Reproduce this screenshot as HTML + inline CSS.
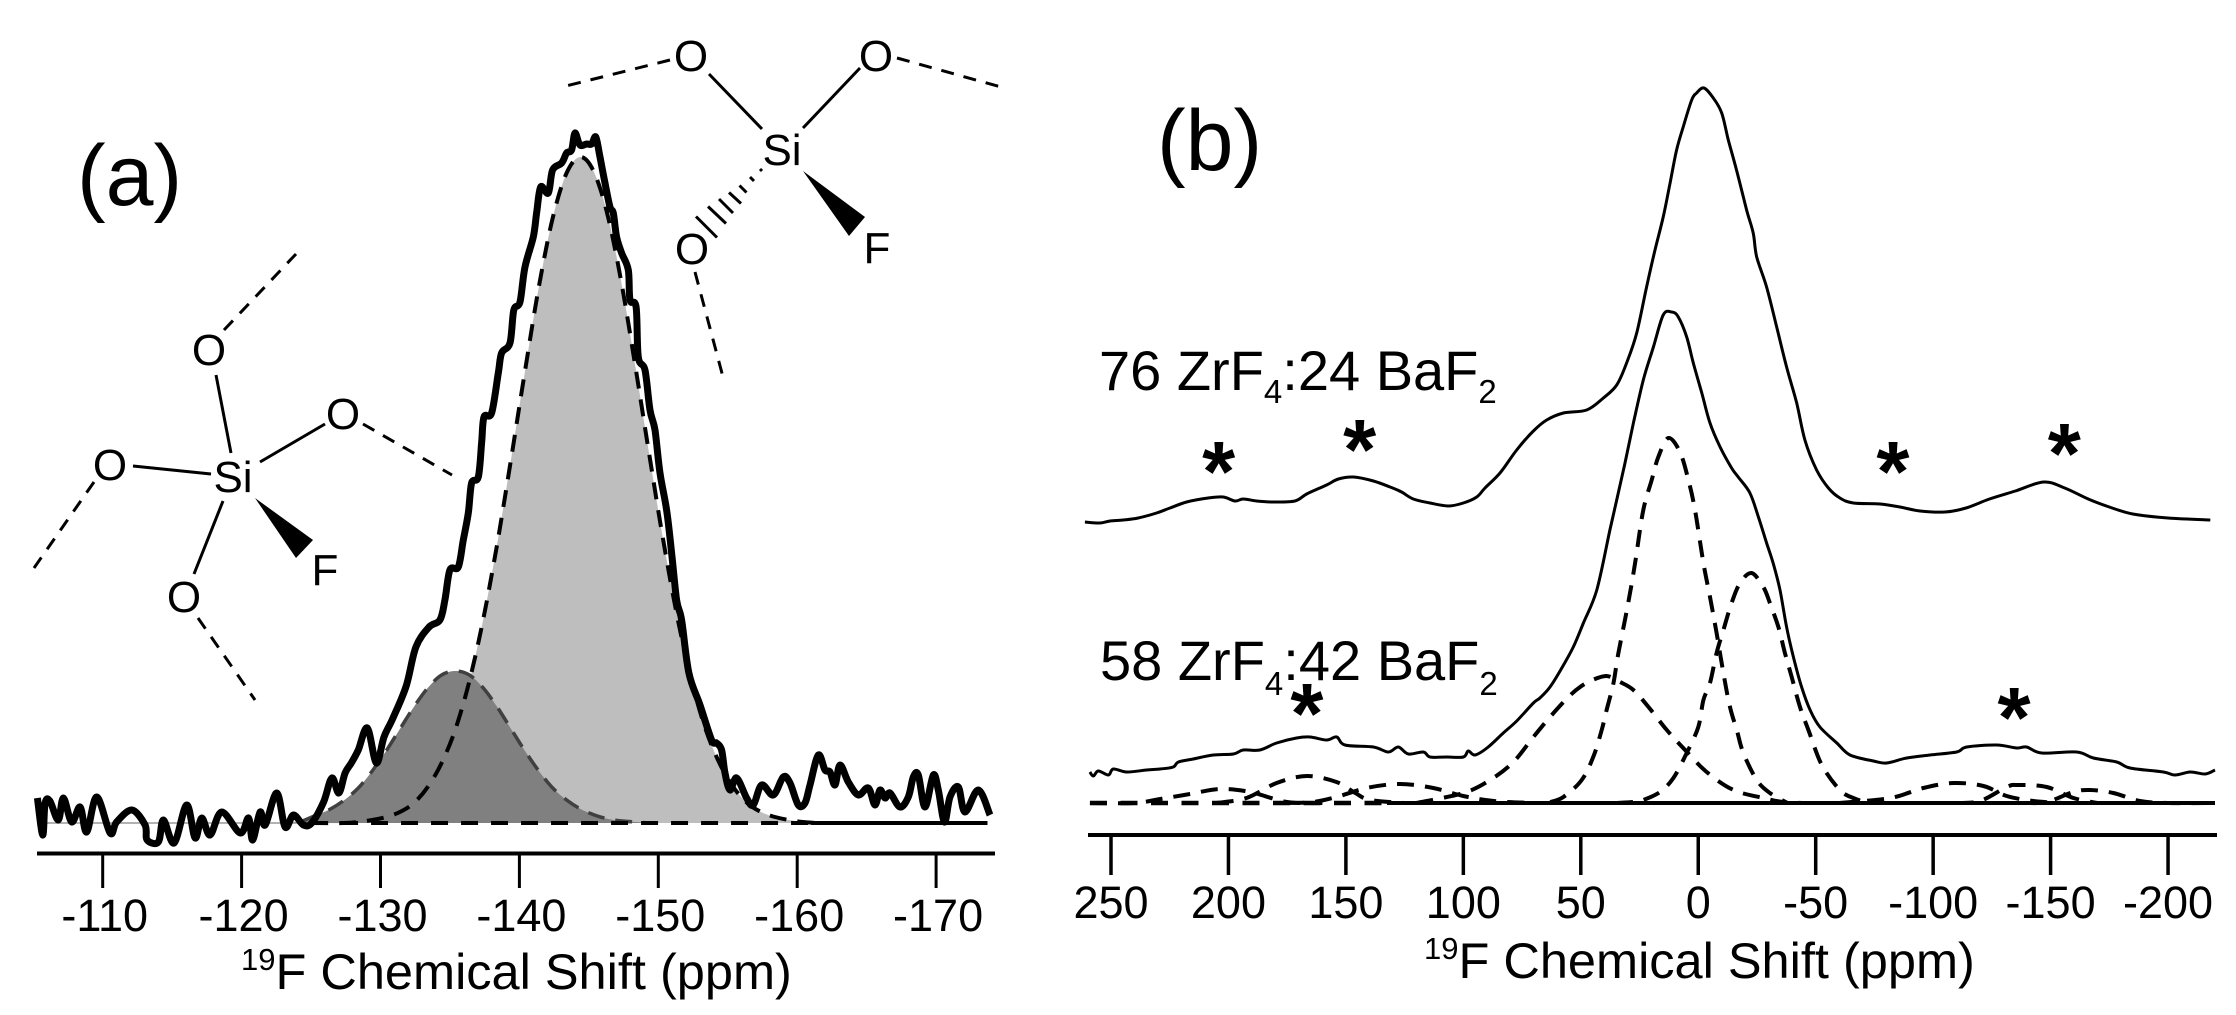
<!DOCTYPE html>
<html lang="en">
<head>
<meta charset="utf-8">
<title>19F NMR spectra</title>
<style>
html,body{margin:0;padding:0;background:#fff;}
svg{display:block;}
text{font-family:"Liberation Sans",Arial,sans-serif;fill:#000;}
.thin{stroke:#000;stroke-width:3;fill:none;}
.dash{stroke:#000;stroke-width:3;fill:none;stroke-dasharray:13 10;}
.atom{font-size:44px;text-anchor:middle;}
.lab{font-size:56px;}
.sub{font-size:33px;}
.title{font-size:50.5px;}
.sup{font-size:31px;}
.panel{font-size:86px;}
</style>
</head>
<body>
<svg id="chart" xmlns="http://www.w3.org/2000/svg" width="2236" height="1015" viewBox="0 0 2236 1015">
  <rect x="0" y="0" width="2236" height="1015" fill="#fff"/>
  <g id="panelA"></g>
  <g id="panelB"></g>

  <text class="panel" x="77" y="205">(a)</text>
  <text class="panel" x="1157" y="170">(b)</text>

  <g>
    <text class="atom" x="233" y="492">Si</text>
    <text class="atom" x="209" y="365">O</text>
    <text class="atom" x="343" y="429">O</text>
    <text class="atom" x="110" y="480">O</text>
    <text class="atom" x="184" y="612">O</text>
    <text class="atom" x="325" y="585">F</text>
    <line class="thin" x1="216" y1="375" x2="231" y2="453"/>
    <line class="thin" x1="260" y1="462" x2="325" y2="424"/>
    <line class="thin" x1="133" y1="466" x2="211" y2="474"/>
    <line class="thin" x1="223" y1="501" x2="194" y2="574"/>
    <polygon points="255,498 313,540 296,558" fill="#000"/>
    <line class="dash" x1="224" y1="330" x2="296" y2="254"/>
    <line class="dash" x1="363" y1="424" x2="452" y2="475"/>
    <line class="dash" x1="94" y1="482" x2="34" y2="568"/>
    <line class="dash" x1="198" y1="618" x2="255" y2="700"/>
  </g>

  <g>
    <text class="atom" x="782" y="165">Si</text>
    <text class="atom" x="691" y="71">O</text>
    <text class="atom" x="876" y="71">O</text>
    <text class="atom" x="692" y="264">O</text>
    <text class="atom" x="877" y="263">F</text>
    <line class="thin" x1="709" y1="74" x2="762" y2="129"/>
    <line class="thin" x1="860" y1="68" x2="803" y2="128"/>
    <polygon points="803,171 865,217 849,236" fill="#000"/>
    <g stroke="#000" stroke-width="3">
      <line x1="760" y1="169" x2="762" y2="171"/>
      <line x1="750" y1="177" x2="754" y2="181"/>
      <line x1="739.5" y1="185.5" x2="746.5" y2="192.5"/>
      <line x1="729" y1="192.5" x2="741" y2="203.5"/>
      <line x1="719" y1="199" x2="733" y2="213"/>
      <line x1="708" y1="206.5" x2="726" y2="223.5"/>
      <line x1="696" y1="216.5" x2="717" y2="237.5"/>
    </g>
    <line class="dash" x1="670" y1="60" x2="562" y2="87"/>
    <line class="dash" x1="897" y1="58" x2="1001" y2="87"/>
    <line class="dash" x1="695" y1="272" x2="723" y2="377"/>
  </g>

  <text class="title" x="241" y="989"><tspan class="sup" dy="-19">19</tspan><tspan dy="19">F Chemical Shift (ppm)</tspan></text>
  <text class="title" x="1424" y="978"><tspan class="sup" dy="-19">19</tspan><tspan dy="19">F Chemical Shift (ppm)</tspan></text>

  <text class="lab" x="1099" y="390">76 ZrF<tspan class="sub" dy="13">4</tspan><tspan dy="-13">:24 BaF</tspan><tspan class="sub" dy="13">2</tspan></text>
  <text class="lab" x="1100" y="680">58 ZrF<tspan class="sub" dy="15">4</tspan><tspan dy="-15">:42 BaF</tspan><tspan class="sub" dy="15">2</tspan></text>
</svg>
<script>
// ---------- Panel (a) data: ppm and intensity (a.u.) ----------
const ticksA = [-110,-120,-130,-140,-150,-160,-170];
const spectrumAPpm = [-105.30,-105.68,-105.85,-106.2,-106.8,-107.17,-107.77,-108.37,-108.85,-109.57,-110.53,-111.0,-112.1,-113.05,-113.2,-114.0,-114.37,-115.14,-116.05,-116.65,-117.13,-117.73,-118.57,-119.9,-120.5,-120.8,-121.33,-121.7,-122.53,-123.13,-123.73,-124.45,-125.05,-125.9,-126.5,-127.0,-127.45,-127.9,-128.4,-129.05,-129.7,-130.25,-130.9,-131.85,-132.55,-133.5,-134.28,-134.64,-135.0,-135.6,-135.96,-136.32,-136.56,-137.04,-137.28,-137.45,-138.0,-138.48,-138.72,-139.32,-139.6,-140.04,-140.4,-141.0,-141.24,-141.53,-142.08,-142.39,-143.04,-143.4,-143.76,-144.0,-144.36,-144.84,-145.2,-145.5,-145.8,-146.16,-146.52,-146.76,-147.0,-147.36,-147.84,-147.96,-148.4,-148.56,-149.04,-149.4,-149.76,-150.12,-150.6,-150.96,-151.32,-151.68,-152.2,-153.0,-153.84,-154.2,-154.56,-154.8,-155.16,-155.64,-156.36,-156.84,-157.44,-158.28,-159.0,-159.48,-160.08,-160.56,-160.92,-161.52,-162.0,-162.36,-162.72,-163.08,-163.68,-164.4,-165.12,-165.6,-165.96,-166.32,-166.68,-167.4,-168.0,-168.36,-168.72,-169.2,-169.8,-170.16,-170.6,-171.0,-171.6,-172.08,-173.04,-173.88];
const spectrumAValues = [2.5,-1.2,2.0,2.2,0.3,2.5,0.1,1.6,-0.9,2.6,-1.0,0.1,1.3,-0.2,-1.7,-1.9,0.3,-2.0,1.8,-1.5,0.5,-1.2,1.1,-1.0,0.5,-1.7,1.1,-0.2,3.0,-0.4,0.8,-0.2,0.0,2.1,4.5,3.0,5.0,6.0,7.3,9.5,6.0,8.6,10.5,13.7,17.6,19.6,20.3,22.3,25.3,25.6,28.3,31.0,34.0,34.6,38.0,40.6,41.0,45.0,47.0,48.0,51.3,52.1,55.6,58.6,61.0,63.6,63.0,65.3,66.0,67.0,67.3,69.0,67.8,67.9,67.9,68.6,66.6,64.0,61.6,61.0,58.6,57.0,55.3,52.3,51.6,46.6,45.3,41.3,39.3,35.0,31.3,27.0,22.3,20.3,15.0,11.8,8.3,8.0,7.3,5.0,3.3,4.5,2.5,1.8,3.8,2.8,4.6,4.0,1.8,2.0,3.8,6.8,5.3,5.1,3.8,5.8,4.1,2.8,3.5,1.8,3.3,2.5,3.0,1.6,2.6,4.6,4.8,1.6,4.8,3.3,0.1,2.6,3.6,1.1,3.3,0.8];
const lightPeakPpm = [-125,-127.4,-128.4,-129.4,-130.4,-131.4,-132.4,-133.4,-134.4,-135.4,-136.4,-137.4,-138.4,-139.4,-140.4,-141.4,-142.4,-143.4,-144.4,-145.4,-146.4,-147.4,-148.4,-149.4,-150.4,-151.4,-152.4,-153.4,-154.4,-155.4,-156.4,-157.4,-158.4,-159.4,-160.4,-161.4];
const lightPeakValues = [0,0,0.1,0.3,0.6,1.1,2.0,3.6,6.0,9.4,14.2,20.4,27.9,36.4,45.2,53.6,60.5,65.0,66.6,65.0,60.5,53.6,45.2,36.4,27.9,20.4,14.2,9.4,6.0,3.6,2.0,1.1,0.6,0.3,0.1,0];
const darkPeakPpm = [-121.4,-122.4,-123.4,-124.4,-125.4,-126.4,-127.4,-128.4,-129.4,-130.4,-131.4,-132.4,-133.4,-134.4,-135.4,-136.4,-137.4,-138.4,-139.4,-140.4,-141.4,-142.4,-143.4,-144.4,-145.4,-146.4,-147.4,-148.4,-149.4];
const darkPeakValues = [0,0,0.1,0.2,0.8,1.4,2.3,3.5,5.2,7.2,9.4,11.6,13.5,14.8,15.2,14.8,13.5,11.6,9.4,7.2,5.2,3.5,2.3,1.4,0.8,0.4,0.2,0.1,0];

// ---------- Panel (b) data: ppm and intensity (a.u.) ----------
const ticksB = [250,200,150,100,50,0,-50,-100,-150,-200];
const upperPpm = [261.1,254.7,250.4,244.8,238.4,230.6,224.9,217.8,208.6,202.2,197.2,193.7,188,180.9,171.7,166.7,158.2,153.2,146.8,138.3,131.2,126.3,121.3,114.2,106.4,100,94.3,90.8,84.4,77.3,70.2,64.5,57.4,47.5,40.4,34.7,30.5,26.2,22,18.4,14.9,12,9.2,6.4,2.8,0.7,-2.4,-6.4,-10,-12.8,-16.3,-20.6,-23.4,-24.9,-29.1,-33.4,-37.6,-41.9,-45.4,-50.4,-55.4,-60.3,-66,-77.4,-85.9,-94.4,-105,-114,-124,-135,-147,-156,-166,-175,-185,-200,-218];
const upperValues = [0.8,0.7,0.9,1.0,1.2,1.7,2.2,2.8,3.2,3.3,2.9,3.1,2.9,2.8,2.9,3.6,4.5,5.1,5.3,4.9,4.3,3.8,3.1,2.7,2.4,2.7,3.3,4.2,5.7,8.0,9.9,11.0,11.7,12.0,13.2,14.5,16.7,19.7,24.3,28.0,31.3,34.7,38.0,40.3,43.0,43.7,44.2,43.2,41.7,39.0,36.0,32.0,29.7,27.3,24.3,20.3,16.3,12.7,9.0,6.0,4.2,3.2,2.7,2.6,2.3,1.9,1.8,2.2,3.1,3.9,4.8,4.2,3.1,2.3,1.6,1.2,1.0];
const lowerPpm = [259,257.5,255.4,251.1,249,243.3,234.8,229.1,223.5,221.3,215,206.4,197.9,193.7,186.6,179.5,171,165.3,158.2,153.9,150.4,138.3,131.9,127.7,123.4,117,114.2,107.1,100,97.9,95,89.4,83,77.3,70.2,67.4,63.1,58.1,53.2,48.9,43.2,37.6,34.7,31.2,27.6,23.4,19.1,14.9,11.3,8.5,4.9,2.1,-1.5,-5,-9.3,-14.2,-17,-22,-25.6,-29.1,-32,-34.8,-37.6,-40.5,-44,-47.6,-51.8,-59,-64.6,-74.6,-80.2,-88.8,-98.7,-110,-114.3,-127,-135.6,-139.8,-146.2,-161.1,-168.2,-178.2,-183.8,-198,-203,-209.4,-215.8,-220];
const lowerValues = [3.1,2.7,3.2,2.8,3.4,3.1,3.3,3.4,3.6,4.1,4.4,4.8,4.9,5.3,5.3,6.0,6.5,6.6,6.3,6.6,5.8,5.6,5.1,5.6,4.9,5.1,4.6,4.6,4.6,5.2,4.8,5.6,7.0,8.2,10.0,10.5,11.6,13.5,15.6,18.0,21.3,27.3,30.3,34.0,38.0,42.3,45.6,48.8,49.1,48.6,46.6,44.0,41.0,38.0,35.6,33.5,32.6,31.0,28.6,26.0,23.9,21.3,17.6,14.6,11.6,9.3,7.6,6.0,4.8,4.2,4.0,4.5,4.8,5.1,5.6,5.8,5.5,5.6,5.0,5.1,4.5,4.1,3.5,3.1,2.8,3.1,2.9,3.3];
const mainPeakPpm = [63,57.4,49.6,44.7,41.1,39,36.1,34,29.8,26.9,23.4,19.8,17,12.7,7.8,4.2,1.4,-2.2,-5,-7.8,-10.7,-13.5,-16.4,-19.2,-24.9,-30.5,-38];
const mainPeakValues = [0.1,0.6,2.3,4.6,7.3,9.3,12.0,15.0,20.0,24.0,29.3,32.3,34.6,36.5,35.1,32.3,29.3,24.0,20.6,17.0,13.0,9.6,7.3,5.0,2.3,1.0,0];
const broadPeakPpm = [120,100,88.6,78.7,70.2,63.1,55.3,50.3,45,39,33.3,27.6,21.2,13.4,5.6,-3.6,-15,-27.7,-36,-45];
const broadPeakValues = [0,1.0,2.3,4.1,6.6,8.6,10.6,11.6,12.3,12.7,12.1,11.3,9.6,7.3,5.3,3.1,1.3,0.5,0.1,0];
const rightPeakPpm = [35,27.6,23.4,16.3,10.6,4.9,0,-2.2,-5,-7.8,-10.7,-14.2,-17.8,-22.7,-27.7,-30.5,-34.1,-36.9,-39.8,-43.3,-46.9,-52.6,-60.3,-66,-71.7,-78];
const rightPeakValues = [0,0.1,0.3,1.1,2.5,5.0,7.6,10.3,12.0,15.0,17.3,20.0,22.0,23.0,21.6,20.0,17.6,15.0,12.6,9.6,7.3,3.8,1.3,0.5,0.1,0];
const sidebandAPpm = [259,240,229,216.4,203.6,190.8,175,160];
const sidebandAValues = [0,0,0.4,0.9,1.4,1.1,0.1,0];
const sidebandBPpm = [205,192.3,179.5,166.7,154,146,139.7,125];
const sidebandBValues = [0,0.5,2.0,2.7,2.1,1.0,0.3,0];
const sidebandCPpm = [175,163.9,154,141.2,127,112.8,100,87,70];
const sidebandCValues = [0,0.1,0.6,1.5,1.9,1.5,0.7,0.2,0];
const sidebandDPpm = [-60,-81.7,-95.8,-108.6,-121.4,-131.3,-142.7,-155];
const sidebandDValues = [0,0.5,1.5,2.0,1.7,0.7,0.2,0];
const sidebandEPpm = [-110,-120,-131.3,-136.3,-148.4,-159.7,-170];
const sidebandEValues = [0,0.2,1.6,1.8,1.6,0.5,0];
const sidebandFPpm = [-140,-148.4,-159.7,-166.8,-176.7,-188,-200,-220];
const sidebandFValues = [0,0.1,1.1,1.3,1.0,0.2,0,0];

const asteriskPpm = [205,145,-82,-155];
const lowerAsteriskPpm = [167,-134];

// ---------- Axis functions ----------
const xA = p => 102.7 + (-110 - p) * 13.89;
const yA = v => 823 - v * 10;
const xB = p => 1111 + (250 - p) * 2.349;
const yUpper = v => 530 - v * 10;
const yLower = v => 803 - v * 10;

const NS = 'http://www.w3.org/2000/svg';
const panelA = document.getElementById('panelA');
const panelB = document.getElementById('panelB');

function pathD(ppm, vals, fx, fy) {
  const pts = ppm.map((p, i) => [fx(p), fy(vals[i])]);
  let d = 'M' + pts[0][0].toFixed(1) + ' ' + pts[0][1].toFixed(1);
  for (let i = 0; i < pts.length - 1; i++) {
    const p0 = pts[Math.max(i - 1, 0)];
    const p1 = pts[i];
    const p2 = pts[i + 1];
    const p3 = pts[Math.min(i + 2, pts.length - 1)];
    const c1x = p1[0] + (p2[0] - p0[0]) / 6;
    const c1y = p1[1] + (p2[1] - p0[1]) / 6;
    const c2x = p2[0] - (p3[0] - p1[0]) / 6;
    const c2y = p2[1] - (p3[1] - p1[1]) / 6;
    d += ' C' + c1x.toFixed(1) + ' ' + c1y.toFixed(1) + ' ' + c2x.toFixed(1) + ' ' + c2y.toFixed(1) + ' ' + p2[0].toFixed(1) + ' ' + p2[1].toFixed(1);
  }
  return d;
}
function styled(el, fill, stroke, width, dash) {
  el.setAttribute('fill', fill);
  el.setAttribute('stroke', stroke);
  el.setAttribute('stroke-width', width);
  el.setAttribute('stroke-linejoin', 'round');
  if (dash) el.setAttribute('stroke-dasharray', dash);
  return el;
}

// Panel (a) filled peaks
let el = document.createElementNS(NS, 'path');


el.setAttribute('d', pathD(lightPeakPpm, lightPeakValues, xA, yA) + ' Z');
styled(el, '#bebebe', 'none', 0);
panelA.appendChild(el);

el = document.createElementNS(NS, 'path');


el.setAttribute('d', pathD(darkPeakPpm, darkPeakValues, xA, yA) + ' Z');
styled(el, '#808080', 'none', 0);
panelA.appendChild(el);

el = document.createElementNS(NS, 'line');


el.setAttribute('x1', xA(-105.3));
el.setAttribute('x2', xA(-125));
el.setAttribute('y1', yA(0));
el.setAttribute('y2', yA(0));
styled(el, 'none', '#999', 1.5);
panelA.appendChild(el);

el = document.createElementNS(NS, 'path');


el.setAttribute('d', pathD(darkPeakPpm.slice(3), darkPeakValues.slice(3), xA, yA));
styled(el, 'none', '#404040', 3.5, '17 11');
panelA.appendChild(el);

el = document.createElementNS(NS, 'path');


el.setAttribute('d', pathD(lightPeakPpm, lightPeakValues, xA, yA));
styled(el, 'none', '#000', 4, '17 11');
panelA.appendChild(el);

el = document.createElementNS(NS, 'line');


el.setAttribute('x1', xA(-125));
el.setAttribute('x2', xA(-161));
el.setAttribute('y1', yA(0));
el.setAttribute('y2', yA(0));
styled(el, 'none', '#000', 4, '17 13');
panelA.appendChild(el);

el = document.createElementNS(NS, 'line');


el.setAttribute('x1', xA(-161));
el.setAttribute('x2', xA(-173.7));
el.setAttribute('y1', yA(0));
el.setAttribute('y2', yA(0));
styled(el, 'none', '#000', 4);
panelA.appendChild(el);

el = document.createElementNS(NS, 'path');


el.setAttribute('d', pathD(spectrumAPpm, spectrumAValues, xA, yA));
styled(el, 'none', '#000', 7);
panelA.appendChild(el);

// Panel (a) axis
el = document.createElementNS(NS, 'line');


el.setAttribute('x1', 37);
el.setAttribute('x2', 995);
el.setAttribute('y1', 853.5);
el.setAttribute('y2', 853.5);
styled(el, 'none', '#000', 4);
panelA.appendChild(el);

ticksA.forEach(t => {
  const tick = document.createElementNS(NS, 'line');
  
  
  tick.setAttribute('x1', xA(t));
  tick.setAttribute('x2', xA(t));
  tick.setAttribute('y1', 853);
  tick.setAttribute('y2', 888);
  styled(tick, 'none', '#000', 3);
  panelA.appendChild(tick);
  const label = document.createElementNS(NS, 'text');
  
  
  label.setAttribute('x', xA(t) + 2);
  label.setAttribute('y', 931);
  label.setAttribute('text-anchor', 'middle');
  label.setAttribute('font-size', '45');
  label.textContent = String(t);
  panelA.appendChild(label);
});

// Panel (b) traces
el = document.createElementNS(NS, 'path');


el.setAttribute('d', pathD(upperPpm, upperValues, xB, yUpper));
styled(el, 'none', '#000', 3);
panelB.appendChild(el);

el = document.createElementNS(NS, 'path');


el.setAttribute('d', pathD(lowerPpm, lowerValues, xB, yLower));
styled(el, 'none', '#000', 3);
panelB.appendChild(el);

[[mainPeakPpm, mainPeakValues, 'main-peak-curve'],
 [broadPeakPpm, broadPeakValues, 'broad-peak-curve'],
 [rightPeakPpm, rightPeakValues, 'right-peak-curve'],
 [sidebandAPpm, sidebandAValues, 'sideband-a-curve'],
 [sidebandBPpm, sidebandBValues, 'sideband-b-curve'],
 [sidebandCPpm, sidebandCValues, 'sideband-c-curve'],
 [sidebandDPpm, sidebandDValues, 'sideband-d-curve'],
 [sidebandEPpm, sidebandEValues, 'sideband-e-curve'],
 [sidebandFPpm, sidebandFValues, 'sideband-f-curve']].forEach(s => {
  const c = document.createElementNS(NS, 'path');
  
  
  c.setAttribute('d', pathD(s[0], s[1], xB, yLower));
  styled(c, 'none', '#000', 4, '17 11');
  panelB.appendChild(c);
});

el = document.createElementNS(NS, 'line');


el.setAttribute('x1', 1090);
el.setAttribute('x2', 1387);
el.setAttribute('y1', yLower(0));
el.setAttribute('y2', yLower(0));
styled(el, 'none', '#000', 4.5, '17 13.5');
panelB.appendChild(el);

el = document.createElementNS(NS, 'line');


el.setAttribute('x1', 1387);
el.setAttribute('x2', 2215);
el.setAttribute('y1', yLower(0));
el.setAttribute('y2', yLower(0));
styled(el, 'none', '#000', 4);
panelB.appendChild(el);

// Panel (b) axis
el = document.createElementNS(NS, 'line');


el.setAttribute('x1', 1088);
el.setAttribute('x2', 2217);
el.setAttribute('y1', 835);
el.setAttribute('y2', 835);
styled(el, 'none', '#000', 4);
panelB.appendChild(el);

ticksB.forEach(t => {
  const tick = document.createElementNS(NS, 'line');
  
  
  tick.setAttribute('x1', xB(t));
  tick.setAttribute('x2', xB(t));
  tick.setAttribute('y1', 835);
  tick.setAttribute('y2', 875);
  styled(tick, 'none', '#000', 3.5);
  panelB.appendChild(tick);
  const label = document.createElementNS(NS, 'text');
  
  
  label.setAttribute('x', xB(t));
  label.setAttribute('y', 918);
  label.setAttribute('text-anchor', 'middle');
  label.setAttribute('font-size', '45');
  label.textContent = String(t);
  panelB.appendChild(label);
});

// Spinning sideband asterisks
const asteriskLift = [69, 91, 69, 87];
asteriskPpm.forEach((p, i) => {
  const star = document.createElementNS(NS, 'text');
  
  
  star.setAttribute('x', xB(p) + 2);
  star.setAttribute('y', yUpper(0) - asteriskLift[i] + 40);
  star.setAttribute('text-anchor', 'middle');
  star.setAttribute('font-size', '85');
  star.setAttribute('font-weight', 'bold');
  star.textContent = '*';
  panelB.appendChild(star);
});
const lowerAsteriskLift = [100, 96];
lowerAsteriskPpm.forEach((p, i) => {
  const star = document.createElementNS(NS, 'text');
  
  
  star.setAttribute('x', xB(p) + 1);
  star.setAttribute('y', yLower(0) - lowerAsteriskLift[i] + 40);
  star.setAttribute('text-anchor', 'middle');
  star.setAttribute('font-size', '85');
  star.setAttribute('font-weight', 'bold');
  star.textContent = '*';
  panelB.appendChild(star);
});
</script>
</body>
</html>
